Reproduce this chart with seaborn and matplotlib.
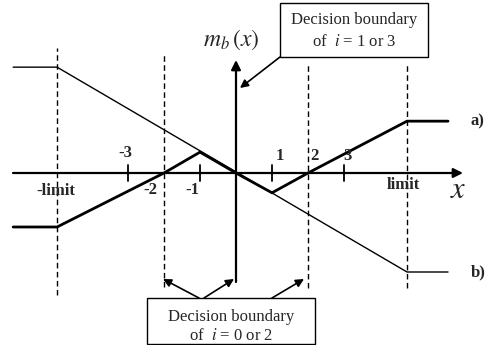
import numpy as np
import pandas as pd
import matplotlib
matplotlib.use('Agg')
import matplotlib.pyplot as plt
from matplotlib.patches import Rectangle
import seaborn as sns

sns.set_style('white')
plt.rcParams['font.family'] = ['Liberation Serif', 'DejaVu Serif']
plt.rcParams['mathtext.fontset'] = 'stix'

# curve a): piecewise linear, thick
a_x = [-6.19, -4.97, -2, -1, 0, 1, 2, 4.75, 5.89]
a_y = [-1.5, -1.5, 0, 0.58, 0, -0.55, 0, 1.44, 1.44]
# curve b): straight line saturated at +-limit, thin
b_x = [-6.19, -4.97, 4.75, 5.89]
b_y = [2.94, 2.94, -2.75, -2.75]
# dashed decision boundaries and tick marks
bounds = [-4.97, -2, 2, 4.75]
bound_top = [3.47, 3.28, 3.06, 3.06]
bound_bot = [-3.39, -3.17, -3.19, -3.19]
tick_vals = [-3, -1, 1, 3]

# pixel -> data helpers (only for placing labels)
def px(x):
    return (x - 236) / 36.0
def py(y):
    return (173 - y) / 36.0

fig = plt.figure(figsize=(4.97, 3.45), dpi=100)
ax = fig.add_axes([0, 0, 1, 1])
ax.set_xlim(px(0), px(497))
ax.set_ylim(py(345), py(0))
ax.axis('off')

df_a = pd.DataFrame({'x': a_x, 'y': a_y})
df_b = pd.DataFrame({'x': b_x, 'y': b_y})
sns.lineplot(data=df_a, x='x', y='y', ax=ax, color='black', lw=2.0, sort=False)
sns.lineplot(data=df_b, x='x', y='y', ax=ax, color='black', lw=1.0, sort=False)

for b, t, bo in zip(bounds, bound_top, bound_bot):
    ax.plot([b, b], [bo, t], color='black', lw=1.0, ls=(0, (4, 2.5)))

# axes with arrows
arr = dict(arrowstyle='-|>', color='black', lw=1.6, mutation_scale=14, shrinkA=0, shrinkB=0)
ax.annotate('', xy=(px(463), 0), xytext=(px(13), 0), arrowprops=arr)
ax.annotate('', xy=(0, py(60)), xytext=(0, py(282)), arrowprops=arr)
for t in tick_vals:
    ax.plot([t, t], [-0.22, 0.22], color='black', lw=1.3)

bold = dict(fontsize=12, fontweight='bold', ha='center', va='center')
ax.text(px(125), py(153), '-3', **bold)
ax.text(px(150), py(190), '-2', **bold)
ax.text(px(192), py(190), '-1', **bold)
ax.text(px(280), py(156), '1', **bold)
ax.text(px(314), py(156), '2', **bold)
ax.text(px(348), py(156), '3', **bold)
ax.text(px(56), py(191), '-limit', **bold)
ax.text(px(403), py(185), 'limit', **bold)
ax.text(px(477), py(121), 'a)', **bold)
ax.text(px(478), py(272), 'b)', **bold)
ax.text(px(458), py(190), '$x$', fontsize=22, ha='center', va='center')
ax.text(px(231), py(40), r'$m_b\,(x)$', fontsize=17, ha='center', va='center')

# top box
ax.add_patch(Rectangle((px(280), py(57)), px(428) - px(280), py(3) - py(57),
                       fill=False, ec='black', lw=1.0))
ax.text(px(354), py(20), 'Decision boundary', fontsize=12, ha='center', va='center')
ax.text(px(354), py(42), 'of  $i$ = 1 or 3', fontsize=12, ha='center', va='center')
arr2 = dict(arrowstyle='-|>', color='black', lw=1.2, mutation_scale=12, shrinkA=0, shrinkB=0)
ax.annotate('', xy=(px(240), py(88)), xytext=(px(280), py(57)), arrowprops=arr2)

# bottom box
ax.add_patch(Rectangle((px(147), py(344)), px(315) - px(147), py(298) - py(344),
                       fill=False, ec='black', lw=1.0))
ax.text(px(231), py(317), 'Decision boundary', fontsize=12, ha='center', va='center')
ax.text(px(231), py(336), 'of  $i$ = 0 or 2', fontsize=12, ha='center', va='center')
ax.annotate('', xy=(px(163), py(279)), xytext=(px(199), py(298)), arrowprops=arr2)
ax.annotate('', xy=(px(234), py(279)), xytext=(px(204), py(298)), arrowprops=arr2)
ax.annotate('', xy=(px(304), py(279)), xytext=(px(272), py(298)), arrowprops=arr2)

fig.savefig('out.png', dpi=100)
